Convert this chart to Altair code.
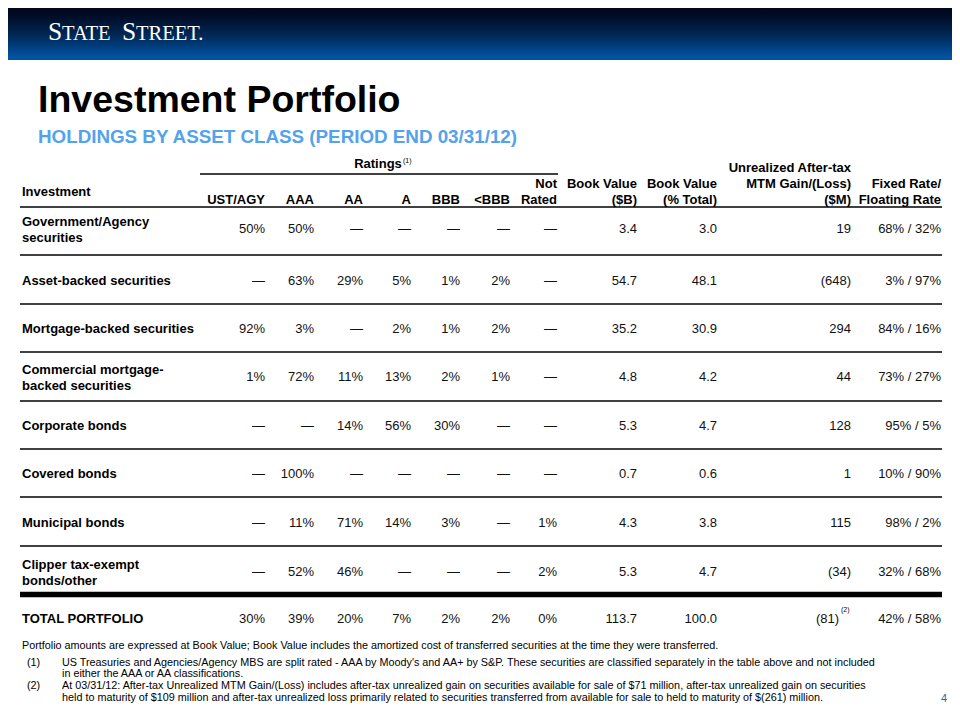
import altair as alt
import pandas as pd

# ------------------------------------------------------------------ data
logo_words = ["STATE", "STREET."]
title = "Investment Portfolio"
subtitle = "HOLDINGS BY ASSET CLASS (PERIOD END 03/31/12)"
ratings_label = "Ratings"
ratings_note = "(1)"
first_header = "Investment"
col_headers = [
    "UST/AGY", "AAA", "AA", "A", "BBB", "<BBB", "Not\nRated",
    "Book Value\n($B)", "Book Value\n(% Total)",
    "Unrealized After-tax\nMTM Gain/(Loss)\n($M)", "Fixed Rate/\nFloating Rate",
]
investments = [
    "Government/Agency\nsecurities", "Asset-backed  securities",
    "Mortgage-backed  securities", "Commercial mortgage-\nbacked securities",
    "Corporate bonds", "Covered bonds", "Municipal bonds",
    "Clipper tax-exempt\nbonds/other",
]
ust_agy = ["50%", "—", "92%", "1%", "—", "—", "—", "—"]
aaa = ["50%", "63%", "3%", "72%", "—", "100%", "11%", "52%"]
aa = ["—", "29%", "—", "11%", "14%", "—", "71%", "46%"]
a_rated = ["—", "5%", "2%", "13%", "56%", "—", "14%", "—"]
bbb = ["—", "1%", "1%", "2%", "30%", "—", "3%", "—"]
below_bbb = ["—", "2%", "2%", "1%", "—", "—", "—", "—"]
not_rated = ["—", "—", "—", "—", "—", "—", "1%", "2%"]
book_value_b = [3.4, 54.7, 35.2, 4.8, 5.3, 0.7, 4.3, 5.3]
book_value_pct = [3.0, 48.1, 30.9, 4.2, 4.7, 0.6, 3.8, 4.7]
mtm_gain = [19, -648, 294, 44, 128, 1, 115, -34]
fixed_rate = [68, 3, 84, 73, 95, 10, 98, 32]
floating_rate = [32, 97, 16, 27, 5, 90, 2, 68]

total_label = "TOTAL PORTFOLIO"
total_ratings = ["30%", "39%", "20%", "7%", "2%", "2%", "0%"]
total_book_value_b = 113.7
total_book_value_pct = 100.0
total_mtm = -81
total_mtm_note = "(2)"
total_fixed = 42
total_floating = 58

footnote_intro = ("Portfolio amounts are expressed at Book Value; Book Value includes the amortized "
                  "cost of transferred securities at the time they were transferred.")
footnote_marks = ["(1)", "(2)"]
footnote_lines = [
    ["US Treasuries and Agencies/Agency MBS are split rated - AAA by Moody's and AA+ by S&P. "
     "These securities are classified separately in the table above and not included",
     "in either the AAA or AA classifications."],
    ["At 03/31/12: After-tax Unrealized MTM Gain/(Loss) includes after-tax unrealized gain on "
     "securities available for sale of $71 million, after-tax unrealized gain on securities",
     "held to maturity of $109 million and after-tax unrealized loss primarily related to "
     "securities transferred from available for sale to held to maturity of $(261) million."],
]
page_number = "4"

# ------------------------------------------------------------------ layout
W, H, OFF = 944, 702, 8
SANS = "Liberation Sans, Arial, sans-serif"
SERIF = "Liberation Serif, Times New Roman, serif"
XS = alt.Scale(domain=[OFF, OFF + W], nice=False, zero=False)
YS = alt.Scale(domain=[OFF, OFF + H], nice=False, zero=False, reverse=True)

col_right = [265, 314, 363, 411, 460, 510, 557, 637, 717, 851, 941]
row_base = [232.5, 285, 333, 381, 429.5, 478, 527, 576]
row_lines = [255, 304, 352, 401, 449, 497, 546]
header_last_base = 203.5
header_lh = 15.7
label_x = 22
total_base = 623
fn_base = [648.5, 665.5, 677, 689, 700.5]


def fmt_mtm(v):
    return f"({abs(v)})" if v < 0 else f"{v}"


def text_layer(rows, size, weight="normal", align="left", color="#000000", font=SANS):
    df = pd.DataFrame(rows, columns=["x", "y", "text"])
    return alt.Chart(df).mark_text(
        align=align, baseline="alphabetic", fontSize=size, fontWeight=weight,
        color=color, font=font,
    ).encode(
        x=alt.X("x:Q", scale=XS, axis=None),
        y=alt.Y("y:Q", scale=YS, axis=None),
        text="text:N",
    )


# header band with gradient
band_df = pd.DataFrame([{"x": 0, "x2": 960, "y": 0, "y2": 60}])
band = alt.Chart(band_df).mark_rect(
    fill=alt.LinearGradient(
        gradient="linear", x1=0, y1=0, x2=0, y2=1,
        stops=[
            alt.GradientStop(color="#00000c", offset=0.0),
            alt.GradientStop(color="#000f2a", offset=0.3),
            alt.GradientStop(color="#002a58", offset=0.6),
            alt.GradientStop(color="#00478e", offset=0.85),
            alt.GradientStop(color="#0057a4", offset=0.97),
            alt.GradientStop(color="#0a4d8e", offset=1.0),
        ],
    )
).encode(
    x=alt.X("x:Q", scale=XS, axis=None), x2="x2:Q",
    y=alt.Y("y:Q", scale=YS, axis=None), y2="y2:Q",
)

# logo: first letter of each word larger, the rest in small caps
logo_big, logo_small = [], []
logo_x = [(48, 62), (122, 136)]
for (xb, xs), word in zip(logo_x, logo_words):
    logo_big.append((xb, 39.5, word[0]))
    logo_small.append((xs, 39.5, word[1:]))

layers = [band,
          text_layer(logo_big, 25.5, color="#ffffff", font=SERIF),
          text_layer(logo_small, 20.5, color="#ffffff", font=SERIF),
          text_layer([(38, 112, title)], 37.5, weight="bold"),
          text_layer([(38, 143, subtitle)], 18.8, weight="bold", color="#52A2EC")]

# table header
hdr = []
for x, h in zip(col_right, col_headers):
    parts = h.split("\n")
    n = len(parts)
    for k, p in enumerate(parts):
        hdr.append((x, header_last_base - (n - 1 - k) * header_lh, p))
layers.append(text_layer(hdr, 13, weight="bold", align="right"))
layers.append(text_layer([(label_x, 196, first_header)], 13, weight="bold"))
layers.append(text_layer([(378, 168, ratings_label)], 13, weight="bold", align="center"))
layers.append(text_layer([(403, 163, ratings_note)], 7))

# row labels
lab = []
for yb, name in zip(row_base, investments):
    parts = name.split("\n")
    if len(parts) == 1:
        lab.append((label_x, yb, parts[0]))
    else:
        lab.append((label_x, yb - 7, parts[0]))
        lab.append((label_x, yb + 9, parts[1]))
lab.append((label_x, total_base, total_label))
layers.append(text_layer(lab, 13, weight="bold"))

# values
value_cols = [ust_agy, aaa, aa, a_rated, bbb, below_bbb, not_rated,
              [f"{v:.1f}" for v in book_value_b],
              [f"{v:.1f}" for v in book_value_pct],
              [fmt_mtm(v) for v in mtm_gain],
              [f"{f}% / {g}%" for f, g in zip(fixed_rate, floating_rate)]]
vals = []
for j, col in enumerate(value_cols):
    for i, t in enumerate(col):
        vals.append((col_right[j], row_base[i], t))
total_vals = total_ratings + [f"{total_book_value_b:.1f}", f"{total_book_value_pct:.1f}"]
for j, t in enumerate(total_vals):
    vals.append((col_right[j], total_base, t))
vals.append((col_right[9] - 12, total_base, fmt_mtm(total_mtm)))
vals.append((col_right[10], total_base, f"{total_fixed}% / {total_floating}%"))
layers.append(text_layer(vals, 13, align="right", color="#111111"))
layers.append(text_layer([(col_right[9] - 10, 612, total_mtm_note)], 7))

# rules
rule_rows = [(20, 942, 207, 1.5), (200, 558, 174, 1.5)]
rule_rows += [(20, 942, y, 1.5) for y in row_lines]
rule_rows += [(20, 942, 594.5, 5.5)]
rules_df = pd.DataFrame(rule_rows, columns=["x", "x2", "y", "w"])
rules = alt.Chart(rules_df).mark_rule(color="#000000").encode(
    x=alt.X("x:Q", scale=XS, axis=None), x2="x2:Q",
    y=alt.Y("y:Q", scale=YS, axis=None),
    strokeWidth=alt.StrokeWidth("w:Q", scale=None, legend=None),
)
layers.append(rules)

# footnotes
fn = [(label_x, fn_base[0], footnote_intro)]
marks = []
k = 1
for m, lines in zip(footnote_marks, footnote_lines):
    marks.append((27, fn_base[k], m))
    for ln in lines:
        fn.append((62, fn_base[k], ln))
        k += 1
layers.append(text_layer(fn + marks, 10.8))
layers.append(text_layer([(947, 702, page_number)], 11, align="right", color="#2E64A8"))

chart = alt.layer(*layers).properties(
    width=W, height=H, padding=0, autosize="none", background="#ffffff",
).configure_view(stroke=None)

chart.save("out.html", embed_options={"renderer": "svg", "actions": False})
